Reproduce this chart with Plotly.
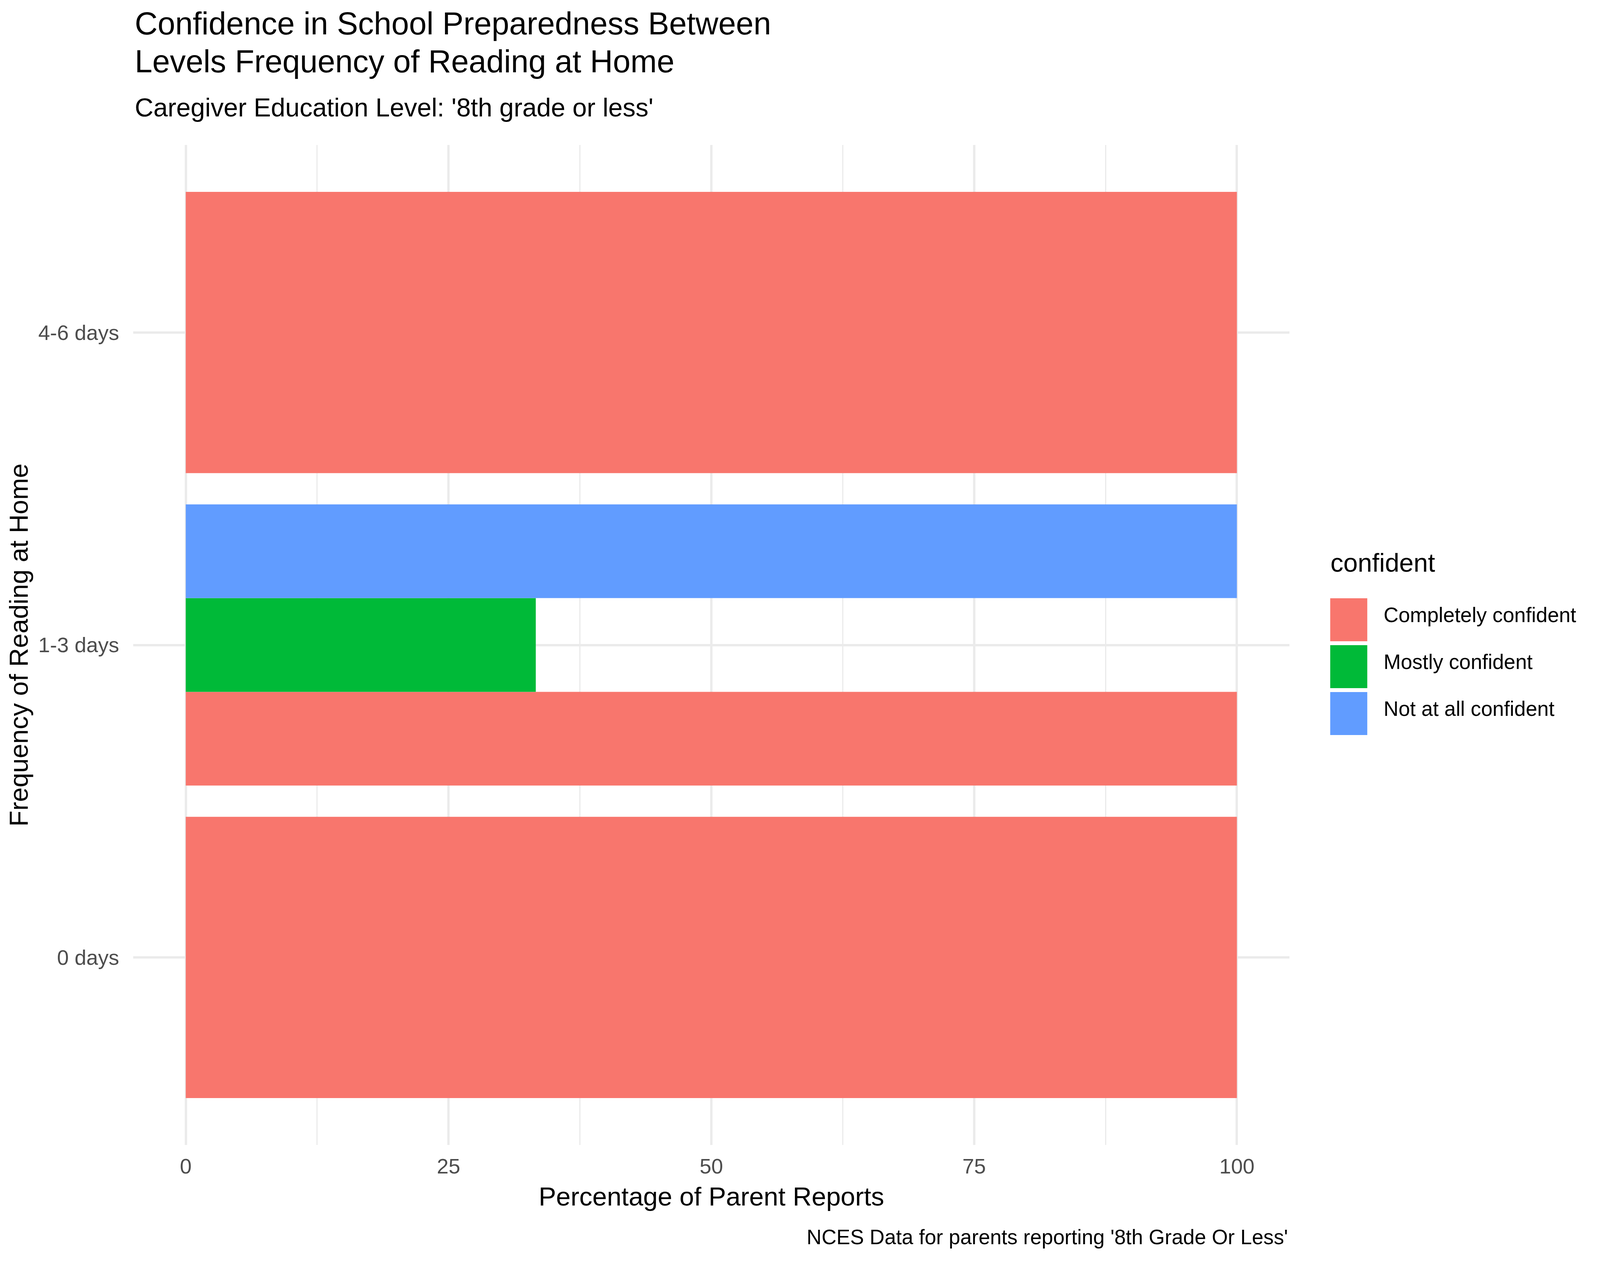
import plotly.graph_objects as go

# data
frequency = ["0 days", "1-3 days", "4-6 days"]
levels = ["Completely confident", "Mostly confident", "Not at all confident"]
completely = [100, 100, 100]
mostly = [None, 33.3, None]
not_at_all = [None, 100, None]
colors = ["#F8766D", "#00BA38", "#619CFF"]

values = [completely, mostly, not_at_all]

# the browser viewport is 4096 wide, so squeeze the 4750-wide layout horizontally
W, H = 4096, 3250
SX = W / 4750
FS = 0.88  # font scale

L, R, T, B = 396 * SX, 3828 * SX, 371, 2930  # panel edges in px


def px(v):
    return (v * SX - L) / (R - L)


def py(v):
    return (B - v) / (B - T)


FONT = "Arial, Liberation Sans, sans-serif"

fig = go.Figure()

# dodge like ggplot: split the 0.9 slot between the series present in each row
for k, (name, vals, col) in enumerate(zip(levels, values, colors)):
    ys, xs, ws, offs = [], [], [], []
    for i, cat in enumerate(frequency):
        if vals[i] is None:
            continue
        present = [j for j in range(len(levels)) if values[j][i] is not None]
        w = 0.9 / len(present)
        ys.append(cat)
        xs.append(vals[i])
        ws.append(w)
        offs.append(-0.45 + present.index(k) * w)
    fig.add_trace(go.Bar(
        x=xs, y=ys, orientation="h", name=name,
        width=ws, offset=offs,
        marker=dict(color=col, line=dict(width=0)),
        showlegend=False,
    ))

fig.update_layout(
    width=W, height=H,
    barmode="overlay",
    plot_bgcolor="white", paper_bgcolor="white",
    margin=dict(l=L, r=W - R, t=T, b=H - B, pad=0),
    font=dict(family=FONT, color="black"),
)

fig.update_xaxes(
    range=[-5, 105], tickvals=[0, 25, 50, 75, 100],
    showgrid=True, gridcolor="#EBEBEB", gridwidth=6,
    minor=dict(tickvals=[12.5, 37.5, 62.5, 87.5], showgrid=True,
               gridcolor="#EBEBEB", gridwidth=3),
    zeroline=False, showline=False, ticks="",
    tickfont=dict(size=54, color="#4D4D4D"),
    ticklabelstandoff=18,
)
fig.update_yaxes(
    type="category", categoryorder="array", categoryarray=frequency,
    range=[-0.6, 2.6],
    showgrid=True, gridcolor="#EBEBEB", gridwidth=6,
    zeroline=False, showline=False, ticks="",
    tickfont=dict(size=54, color="#4D4D4D"),
    ticklabelstandoff=35,
)

DY = 13  # plotly sits text a little below the anchor
ann = [
    dict(text="Confidence in School Preparedness Between", x=px(398), y=py(73 - DY),
         xanchor="left", yanchor="middle", font=dict(size=92 * FS)),
    dict(text="Levels Frequency of Reading at Home", x=px(398), y=py(170 - DY),
         xanchor="left", yanchor="middle", font=dict(size=92 * FS)),
    dict(text="Caregiver Education Level: '8th grade or less'", x=px(398), y=py(288 - DY),
         xanchor="left", yanchor="middle", font=dict(size=75 * FS)),
    dict(text="Percentage of Parent Reports", x=0.5, y=py(3074 - DY),
         xanchor="center", yanchor="middle", font=dict(size=76 * FS)),
    dict(text="Frequency of Reading at Home", x=px(56), y=0.5, textangle=-90,
         xanchor="center", yanchor="middle", font=dict(size=76 * FS)),
    dict(text="NCES Data for parents reporting '8th Grade Or Less'", x=px(3826), y=py(3178 - DY),
         xanchor="right", yanchor="middle", font=dict(size=60 * FS)),
    dict(text="confident", x=px(3947), y=py(1453 - DY),
         xanchor="left", yanchor="middle", font=dict(size=75 * FS)),
]

shapes = []
key_top = 1531
for k, (name, col) in enumerate(zip(levels, colors)):
    top = key_top + k * 120
    shapes.append(dict(type="rect", xref="paper", yref="paper",
                       x0=px(3949), x1=px(4059), y0=py(top + 110), y1=py(top),
                       fillcolor=col, line=dict(width=0)))
    ann.append(dict(text=name, x=px(4105), y=py(top + 55 - DY),
                    xanchor="left", yanchor="middle", font=dict(size=60 * FS)))

for a in ann:
    a.update(xref="paper", yref="paper", showarrow=False)
fig.update_layout(annotations=ann, shapes=shapes)

fig.write_html("out.html", config={"displayModeBar": False},
               post_script="document.body.style.margin='0';")
